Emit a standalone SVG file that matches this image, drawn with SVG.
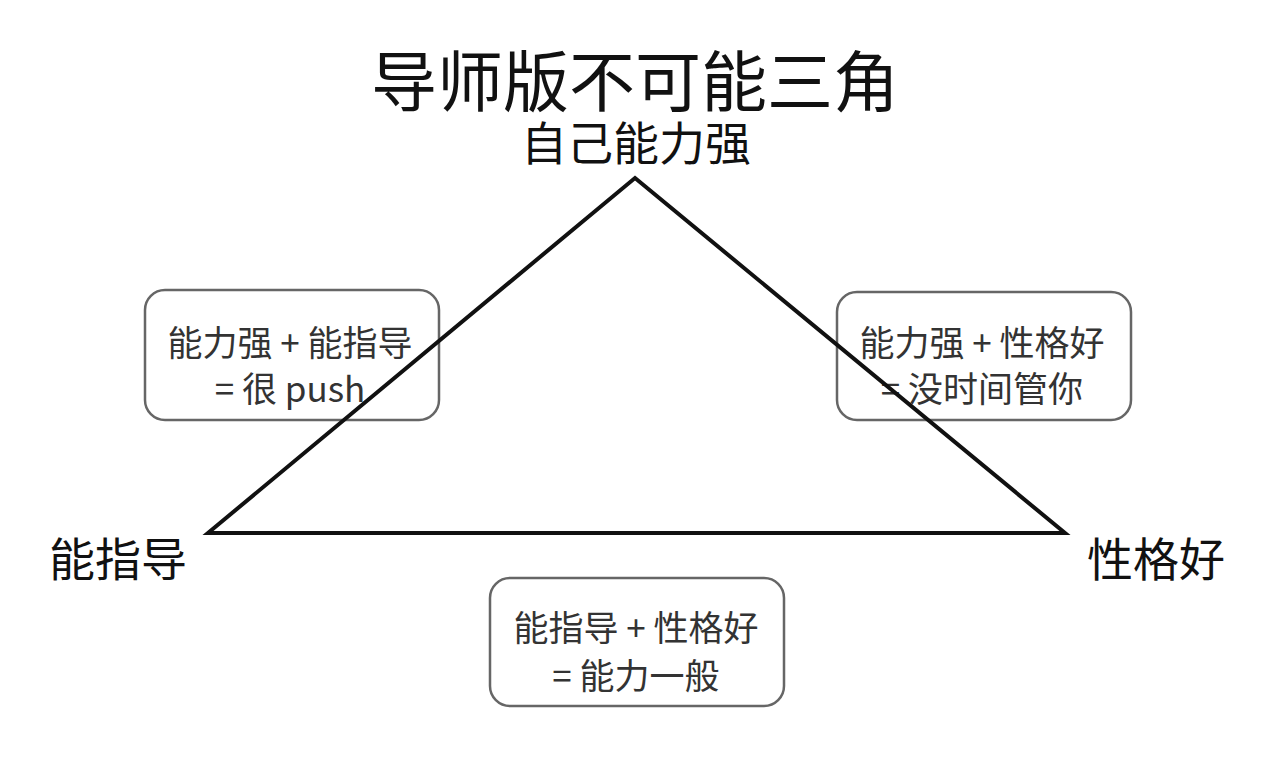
<svg xmlns="http://www.w3.org/2000/svg" width="1264" height="766" viewBox="0 0 1264 766">
<style>
text{font-family:"Noto Sans CJK SC","Noto Sans",sans-serif;text-anchor:middle}
.title{font-size:66px;fill:#111}
.corner{font-size:46px;fill:#111}
.box{fill:none;stroke:#666;stroke-width:2.5}
.bt{font-size:35px;fill:#333}
.tri{fill:none;stroke:#111;stroke-width:4;stroke-linejoin:miter}
</style>
<rect width="1264" height="766" fill="#fff"/>
<g id="title"><text class="title" x="635" y="106">导师版不可能三角</text></g>
<g id="top-label"><text class="corner" x="636" y="160">自己能力强</text></g>
<g id="left-label"><text class="corner" x="118" y="576">能指导</text></g>
<g id="right-label"><text class="corner" x="1156" y="576">性格好</text></g>
<g id="box-left">
<rect class="box" x="145" y="290" width="294" height="130" rx="20"/>
<text class="bt" x="290" y="356">能力强 + 能指导</text>
<text class="bt" x="290" y="402">= 很 push</text>
</g>
<g id="box-right">
<rect class="box" x="837" y="292" width="294" height="128" rx="20"/>
<text class="bt" x="982" y="356">能力强 + 性格好</text>
<text class="bt" x="982" y="402">= 没时间管你</text>
</g>
<g id="box-bottom">
<rect class="box" x="490" y="578" width="294" height="128" rx="20"/>
<text class="bt" x="636" y="641">能指导 + 性格好</text>
<text class="bt" x="636" y="689">= 能力一般</text>
</g>
<g id="connectors">
<polygon class="tri" points="635,178 1065,533 208,533"/>
</g>
</svg>
